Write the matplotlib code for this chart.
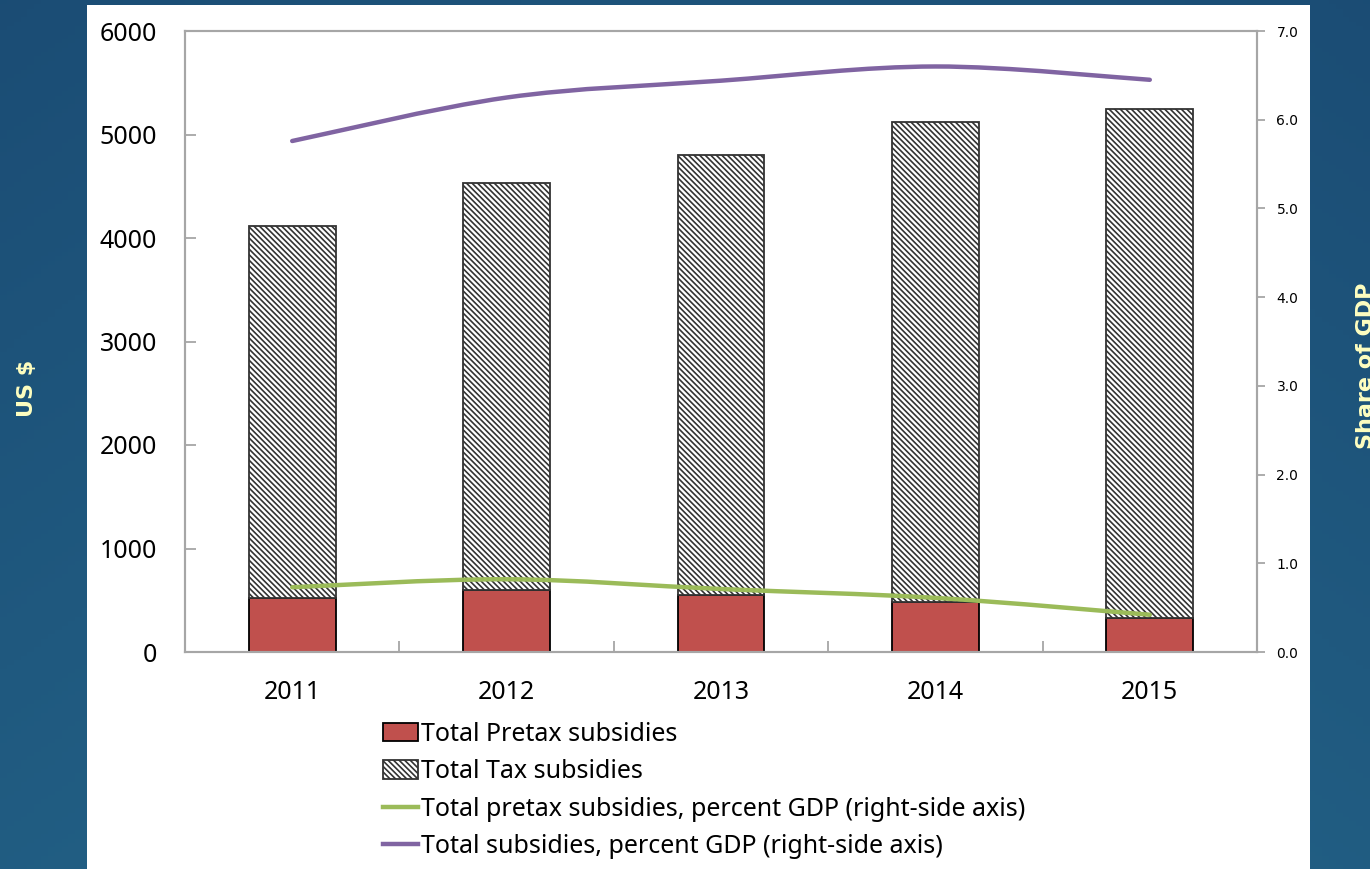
import numpy as np
import matplotlib
matplotlib.use("Agg")
import matplotlib.pyplot as plt
from matplotlib.path import Path
from matplotlib.patches import PathPatch, Patch, Rectangle
from matplotlib.lines import Line2D

years = ["2011", "2012", "2013", "2014", "2015"]
pretax_usd = [522, 599, 551, 483, 329]
tax_usd = [3594, 3932, 4251, 4638, 4917]
pretax_pct_gdp = [0.73, 0.82, 0.71, 0.61, 0.42]
total_pct_gdp = [5.76, 6.25, 6.44, 6.60, 6.45]
left_ticks = [0, 1000, 2000, 3000, 4000, 5000, 6000]
right_ticks = [0.0, 1.0, 2.0, 3.0, 4.0, 5.0, 6.0, 7.0]
legend_labels = ["Total Pretax subsidies", "Total Tax subsidies",
                 "Total pretax subsidies, percent GDP (right-side axis)",
                 "Total subsidies, percent GDP (right-side axis)"]

RED = "#C0504D"
GREEN = "#9BBB59"
PURPLE = "#8064A2"
SPINE = "#A6A6A6"
LABEL_COL = "#FFFFC0"
FONT = "Noto Sans"
HATCH = "\\" * 6

plt.rcParams["hatch.linewidth"] = 1.2

W, H = 1370, 869
fig = plt.figure(figsize=(W / 100, H / 100), dpi=100)

# background gradient
bg = fig.add_axes([0, 0, 1, 1], zorder=-10)
yy, xx = np.mgrid[0:1:200j, 0:1:200j]
t = 0.45 * (1 - yy) + 0.35 * np.exp(-((xx - 0.5) ** 2) / 0.3)
c0 = np.array([0x19, 0x47, 0x70]) / 255
c1 = np.array([0x26, 0x6B, 0x8E]) / 255
img = c0[None, None, :] * (1 - t[..., None]) + c1[None, None, :] * t[..., None]
bg.imshow(img, extent=[0, 1, 0, 1], aspect="auto", origin="lower")
bg.set_axis_off()

# white panel
fig.patches.append(Rectangle((87 / W, 0), 1223 / W, (H - 5) / H,
                             transform=fig.transFigure, facecolor="white",
                             edgecolor="none", zorder=-5))

ax = fig.add_axes([185 / W, 217 / H, 1072 / W, 621 / H])
ax.set_facecolor("none")
x = np.arange(len(years))
bw = 0.405
ax.bar(x, pretax_usd, width=bw, color=RED, edgecolor="black", linewidth=1.3, zorder=2)
ax.bar(x, tax_usd, width=bw, bottom=pretax_usd, color="white", edgecolor="#333333",
       hatch=HATCH, linewidth=1.3, zorder=2)
ax.set_xlim(-0.5, len(years) - 0.5)
ax.set_ylim(0, 6000)
ax.set_yticks(left_ticks)
ax.set_yticklabels([str(v) for v in left_ticks], fontsize=18, family=FONT)
ax.set_xticks(x)
ax.set_xticklabels(years, fontsize=18, family=FONT)
ax.set_xticks(np.arange(0.5, len(years) - 0.5, 1.0), minor=True)
ax.tick_params(axis="x", which="major", length=0, pad=20)
ax.tick_params(axis="x", which="minor", direction="in", length=8, width=1.3, color=SPINE)
ax.tick_params(axis="y", direction="in", length=8, width=1.3, color=SPINE, pad=20)
for s in ax.spines.values():
    s.set_color(SPINE)
    s.set_linewidth(1.5)

ax2 = ax.twinx()
ax2.set_ylim(0, 7.0)
ax2.set_yticks(right_ticks)
ax2.set_yticklabels([f"{v:.1f}" for v in right_ticks], fontsize=10, family="DejaVu Sans")
ax2.tick_params(axis="y", direction="out", length=6, width=1.3, color=SPINE, pad=8)
for s in ax2.spines.values():
    s.set_color(SPINE)
    s.set_linewidth(1.5)


def smooth_path(xs, ys):
    pts = np.column_stack([xs, ys]).astype(float)
    n = len(pts)
    verts = [pts[0]]
    codes = [Path.MOVETO]
    for i in range(n - 1):
        p0 = pts[i - 1] if i > 0 else pts[i]
        p1 = pts[i]
        p2 = pts[i + 1]
        p3 = pts[i + 2] if i + 2 < n else pts[i + 1]
        c1 = p1 + (p2 - p0) / 6.0
        c2 = p2 - (p3 - p1) / 6.0
        verts += [c1, c2, p2]
        codes += [Path.CURVE4] * 3
    return Path(verts, codes)


for vals, col in [(pretax_pct_gdp, GREEN), (total_pct_gdp, PURPLE)]:
    ax2.add_patch(PathPatch(smooth_path(x, vals), facecolor="none", edgecolor=col,
                            linewidth=3.2, capstyle="round", zorder=3))

handles = [Patch(facecolor=RED, edgecolor="black", linewidth=1.3),
           Patch(facecolor="white", edgecolor="#333333", hatch=HATCH, linewidth=1.3),
           Line2D([], [], color=GREEN, linewidth=3.2),
           Line2D([], [], color=PURPLE, linewidth=3.2)]
fig.legend(handles, legend_labels, loc="upper left", bbox_to_anchor=(383 / W, 1 - 722 / H),
           frameon=False, prop={"family": FONT, "size": 18}, handlelength=1.4,
           handleheight=0.75, handletextpad=0.12, labelspacing=0.49, borderpad=0,
           borderaxespad=0)

fig.text(27 / W, 1 - 388 / H, "US $", rotation=90, ha="center", va="center",
         fontsize=16, fontweight="bold", color=LABEL_COL, family="DejaVu Sans")
fig.text(1366 / W, 1 - 366 / H, "Share of GDP", rotation=90, ha="center", va="center",
         fontsize=16, fontweight="bold", color=LABEL_COL, family="DejaVu Sans")

fig.savefig("out.png", dpi=100)
